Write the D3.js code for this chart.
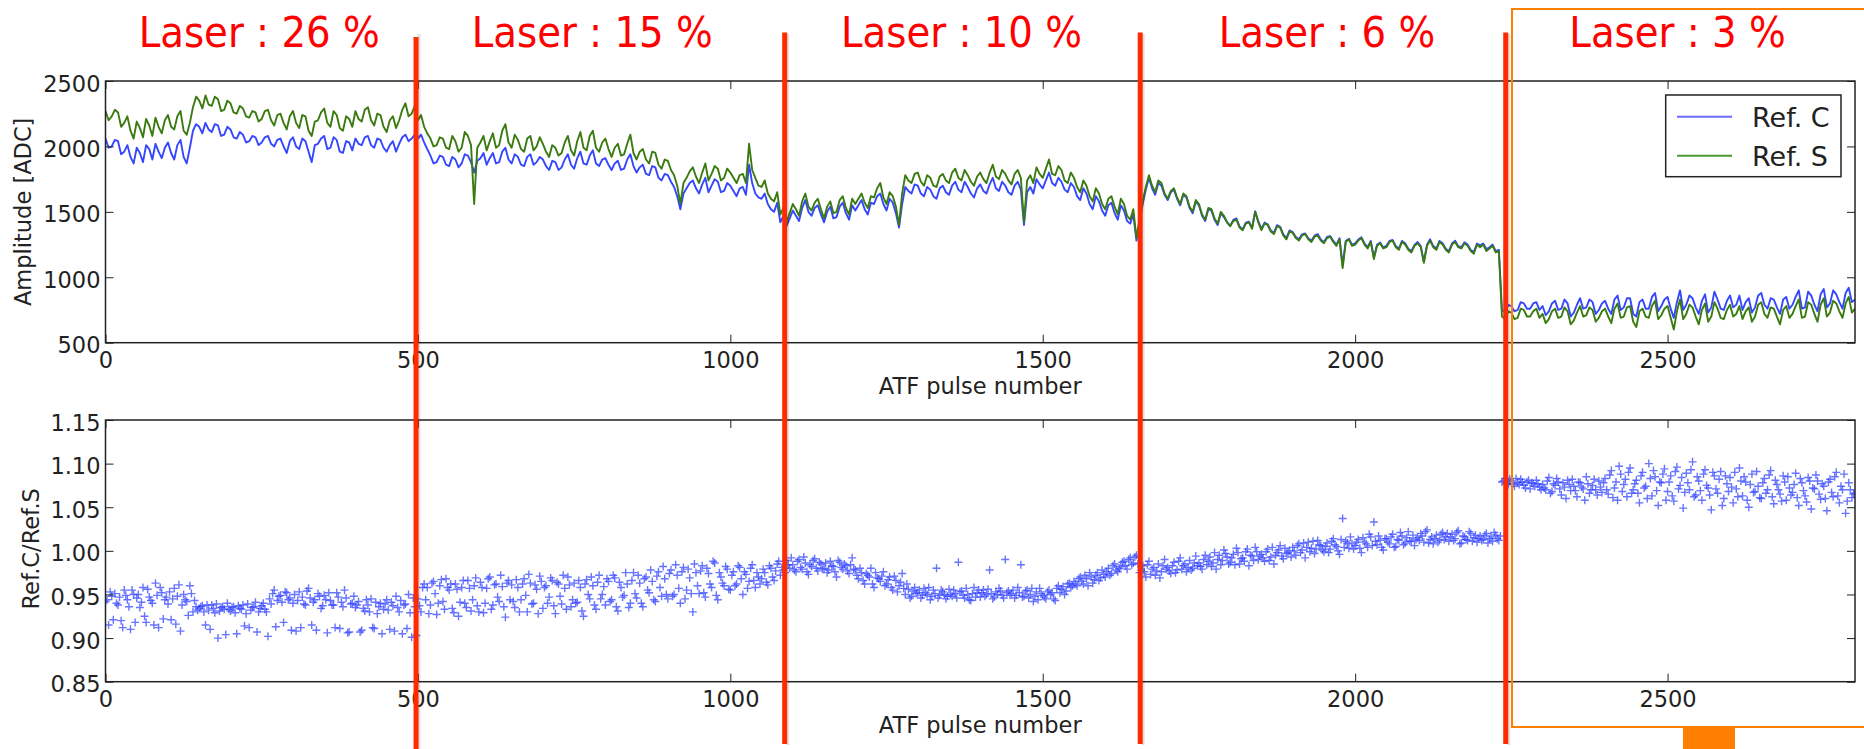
<!DOCTYPE html>
<html>
<head>
<meta charset="utf-8">
<script src="https://cdn.jsdelivr.net/npm/d3@7"></script>
<style>
body { margin: 0; background: #fff; }
text { font-family: "DejaVu Sans", sans-serif; fill: #222; }
</style>
</head>
<body>
<svg id="chart" width="1864" height="749"></svg>
<script>
// sampling of the traces: main arrays every 10 pulses (0..2800), *_mid arrays in between (5..2795)
var line_step = 10, ratio_step = 5;

// Ref. C amplitude [ADC]
var ref_c = [
	2060,2000,2040,1960,1920,1990,1880,1980,2020,1910,
	2030,1900,2050,1870,2120,2150,2180,2110,2160,2090,
	2130,2060,2090,2040,2070,2030,2080,2000,2060,1950,
	2070,1980,2040,1880,2020,2080,1990,2050,1950,2030,
	2060,2010,2080,1990,2050,1960,2040,2020,2090,2060,
	2060,2030,1930,1880,1920,1850,1900,1870,1930,1800,
	1910,1860,1950,1880,1990,1870,1920,1850,1940,1880,
	1900,1820,1880,1840,1940,1830,1960,1860,1970,1850,
	1910,1820,1890,1830,1940,1800,1860,1780,1840,1740,
	1780,1690,1520,1680,1740,1640,1760,1700,1730,1660,
	1700,1620,1690,1860,1640,1600,1560,1500,1420,1390,
	1510,1430,1590,1470,1550,1420,1540,1460,1570,1440,
	1510,1590,1480,1560,1640,1510,1570,1380,1690,1640,
	1700,1620,1670,1600,1700,1630,1730,1650,1690,1610,
	1710,1640,1760,1660,1700,1630,1730,1400,1690,1750,
	1680,1800,1700,1730,1650,1690,1590,1640,1520,1580,
	1470,1570,1440,1510,1410,1280,1560,1760,1630,1700,
	1590,1670,1550,1610,1490,1550,1430,1510,1400,1460,
	1395,1450,1365,1425,1505,1370,1405,1340,1385,1300,
	1345,1290,1335,1280,1330,1270,1315,1250,1090,1295,
	1260,1305,1230,1150,1265,1240,1285,1220,1260,1200,
	1270,1120,1290,1220,1260,1200,1280,1230,1250,1195,
	1245,1215,1250,1210,730,780,750,800,760,810,
	780,740,820,760,800,730,840,770,810,750,
	820,720,860,770,840,700,830,760,880,780,
	850,690,900,790,840,720,870,770,830,750,
	860,790,750,840,770,880,760,830,720,850,
	790,900,770,860,740,910,800,870,760,920,
	830];
var ref_c_mid = [
	1990,2050,1940,2010,1870,1950,2010,1900,1960,1990,
	1950,2010,1920,1990,2170,2100,2130,2170,2080,2150,
	2070,2110,2030,2080,2010,2070,2020,2050,2000,2040,
	2000,2060,1960,2010,2060,1980,2070,1960,2040,1970,
	2020,2070,2010,2060,1990,2010,1960,2070,2040,2090,
	2090,1980,1870,1930,1860,1920,1840,1940,1880,1890,
	1950,1910,1870,1960,1900,1940,1860,1920,1860,1920,
	1850,1890,1820,1900,1860,1910,1870,1930,1870,1900,
	1860,1870,1820,1900,1850,1840,1790,1850,1760,1790,
	1730,1620,1640,1720,1680,1710,1650,1750,1650,1720,
	1660,1680,1630,1720,1610,1640,1520,1570,1470,1450,
	1470,1530,1500,1530,1480,1500,1450,1540,1490,1550,
	1550,1520,1570,1620,1560,1600,1490,1560,1660,1710,
	1640,1690,1620,1680,1650,1700,1670,1730,1640,1680,
	1660,1710,1680,1730,1650,1700,1670,1650,1640,1710,
	1740,1720,1760,1670,1720,1620,1680,1560,1620,1510,
	1550,1490,1550,1430,1480,1420,1670,1680,1720,1630,
	1650,1600,1630,1530,1580,1470,1520,1440,1490,1420,
	1438,1388,1418,1378,1428,1418,1358,1398,1328,1358,
	1308,1328,1298,1318,1288,1308,1278,1298,1278,1248,
	1288,1258,1278,1248,1228,1278,1238,1278,1218,1248,
	1238,1248,1238,1278,1218,1258,1238,1268,1208,1258,
	1258,1228,1200,750,790,740,810,760,800,750,
	710,800,750,830,700,790,760,830,720,800,
	760,830,750,840,720,810,760,850,740,830,
	760,810,750,860,770,820,730,890,760,820,
	770,860,810,730,860,790,840,770,830,760,
	850,760,890,790,870,770,900,810,880,810];

// Ref. S amplitude [ADC]
var ref_s = [
	2270,2230,2260,2180,2120,2190,2070,2160,2220,2100,
	2240,2130,2270,2090,2300,2350,2390,2310,2360,2280,
	2330,2250,2290,2220,2260,2210,2280,2160,2250,2130,
	2270,2140,2230,2080,2200,2290,2150,2240,2120,2210,
	2270,2190,2300,2160,2240,2110,2230,2200,2330,2250,
	2200,2150,2060,2010,2060,1980,2040,1990,2080,1560,
	2030,1970,2100,2010,2170,1990,2050,1960,2080,2000,
	2020,1920,1990,1950,2080,1930,2110,1970,2120,1960,
	2060,1920,2020,1940,2090,1900,1980,1870,1950,1830,
	1890,1780,1560,1760,1840,1720,1870,1790,1830,1760,
	1800,1720,1790,2020,1760,1690,1640,1580,1480,1420,
	1560,1470,1640,1510,1600,1450,1580,1500,1620,1480,
	1560,1640,1530,1610,1720,1560,1620,1400,1780,1720,
	1800,1700,1760,1690,1790,1720,1830,1740,1780,1700,
	1800,1720,1860,1750,1790,1710,1820,1420,1780,1840,
	1760,1900,1780,1820,1720,1760,1650,1700,1580,1640,
	1520,1620,1480,1560,1440,1300,1580,1780,1650,1720,
	1600,1680,1560,1620,1500,1560,1440,1520,1410,1470,
	1390,1440,1360,1420,1500,1360,1400,1330,1380,1290,
	1340,1280,1330,1270,1320,1260,1310,1240,1070,1290,
	1250,1300,1220,1140,1260,1230,1280,1210,1250,1190,
	1260,1110,1280,1210,1250,1190,1270,1220,1240,1180,
	1230,1200,1240,1200,680,730,690,750,700,760,
	720,680,760,700,740,670,780,710,750,690,
	760,650,800,700,780,620,760,690,820,710,
	780,600,830,720,770,640,800,700,760,680,
	790,720,680,770,700,810,690,760,640,780,
	720,830,700,790,660,840,730,800,690,850,
	760];
var ref_s_mid = [
	2200,2280,2150,2230,2060,2140,2210,2080,2150,2200,
	2150,2230,2120,2180,2380,2290,2320,2380,2270,2350,
	2260,2310,2230,2270,2190,2270,2200,2240,2180,2230,
	2180,2240,2120,2190,2260,2180,2270,2140,2230,2150,
	2210,2280,2200,2250,2150,2200,2140,2280,2230,2310,
	2240,2100,2000,2070,1990,2080,1960,2110,2010,1990,
	2080,2040,1990,2120,2030,2090,1980,2060,1970,2070,
	1960,2010,1930,2030,1970,2040,1990,2080,1990,2030,
	1980,1990,1930,2020,1950,1960,1900,1960,1860,1900,
	1820,1700,1720,1810,1770,1800,1740,1850,1740,1830,
	1760,1780,1720,1820,1700,1740,1600,1650,1530,1490,
	1520,1580,1540,1570,1520,1540,1490,1590,1530,1600,
	1600,1570,1620,1680,1610,1650,1540,1640,1740,1790,
	1730,1780,1700,1770,1740,1800,1760,1820,1730,1770,
	1750,1800,1770,1820,1740,1790,1760,1740,1720,1790,
	1830,1790,1850,1740,1800,1690,1740,1620,1680,1560,
	1600,1540,1600,1470,1520,1450,1690,1700,1740,1640,
	1660,1610,1640,1540,1590,1480,1530,1450,1500,1420,
	1430,1380,1410,1370,1420,1410,1350,1390,1320,1350,
	1300,1320,1290,1310,1280,1300,1270,1290,1270,1240,
	1280,1250,1270,1240,1220,1270,1230,1270,1210,1240,
	1230,1240,1230,1270,1210,1250,1230,1260,1200,1250,
	1250,1220,1190,700,740,680,760,700,740,690,
	650,740,690,770,640,730,700,770,660,740,
	700,760,690,770,660,740,700,780,680,760,
	690,740,680,790,700,750,660,810,690,750,
	700,780,740,660,790,720,770,700,750,690,
	780,690,810,720,790,700,820,740,800,730];

// Ref.C / Ref.S, every 5 pulses (0..2800) and in between (2.5..2797.5)
var ratio = [
	.942,.915,.948,.951,.938,.920,.955,.944,.910,.950,
	.946,.935,.958,.918,.947,.940,.963,.912,.952,.944,
	.939,.921,.957,.948,.908,.950,.942,.960,.930,.936,
	.934,.937,.915,.932,.938,.929,.900,.935,.933,.940,
	.931,.936,.905,.934,.938,.928,.912,.935,.941,.930,
	.937,.933,.902,.939,.955,.943,.949,.918,.952,.946,
	.940,.908,.953,.947,.938,.957,.915,.944,.951,.934,
	.949,.906,.943,.938,.952,.911,.936,.946,.907,.940,
	.935,.942,.909,.931,.938,.945,.911,.928,.940,.933,
	.944,.910,.937,.948,.930,.905,.939,.950,.901,.936,
	.945,.930,.962,.958,.938,.965,.927,.960,.942,.968,
	.955,.934,.962,.925,.958,.940,.966,.931,.960,.937,
	.964,.929,.957,.970,.938,.962,.942,.959,.924,.966,
	.961,.935,.958,.944,.968,.930,.963,.940,.956,.971,
	.934,.960,.947,.966,.928,.962,.939,.957,.970,.936,
	.963,.941,.958,.925,.967,.945,.960,.933,.972,.950,
	.938,.965,.944,.969,.931,.958,.949,.962,.940,.975,
	.946,.963,.936,.970,.952,.965,.942,.976,.948,.968,
	.945,.978,.950,.972,.940,.981,.955,.969,.930,.975,
	.951,.983,.947,.974,.958,.986,.944,.970,.960,.979,
	.955,.976,.962,.981,.950,.973,.965,.984,.958,.970,
	.968,.975,.961,.980,.966,.985,.972,.978,.989,.980,
	.984,.976,.990,.979,.986,.973,.982,.991,.977,.985,
	.980,.975,.988,.982,.970,.987,.979,.983,.974,.992,
	.978,.968,.975,.962,.972,.980,.958,.969,.965,.976,
	.962,.970,.955,.966,.960,.974,.950,.956,.948,.958,
	.952,.946,.957,.950,.944,.955,.980,.949,.953,.945,
	.956,.948,.951,.987,.954,.946,.950,.943,.958,.952,
	.947,.955,.950,.978,.945,.953,.957,.949,.990,.954,
	.951,.946,.958,.984,.948,.955,.950,.942,.953,.957,
	.949,.945,.955,.952,.943,.960,.956,.950,.962,.958,
	.965,.960,.970,.962,.968,.975,.963,.972,.966,.978,
	.970,.980,.974,.985,.976,.982,.988,.979,.992,.986,
	.995,.975,.983,.970,.988,.979,.972,.985,.976,.990,
	.981,.974,.987,.978,.992,.983,.976,.989,.980,.994,
	.986,.979,.995,.988,.982,.998,.990,.984,1.001,.993,
	.987,.996,1.003,.985,.992,.999,.983,.994,1.004,.990,
	.996,.988,1.002,.993,.985,.998,1.006,.991,.997,1.000,
	1.004,.995,1.008,1.001,.992,1.010,1.003,.997,1.012,1.006,
	.999,1.009,1.002,1.014,1.005,.996,1.037,1.011,1.003,1.008,
	1.006,1.013,.998,1.010,1.004,1.016,1.033,1.007,1.012,1.001,
	1.014,1.008,1.019,1.005,1.012,1.017,1.009,1.022,1.011,1.006,
	1.015,1.020,1.010,1.024,1.013,1.008,1.018,1.012,1.021,1.016,
	1.011,1.019,1.014,1.023,1.009,1.016,1.012,1.020,1.015,1.010,
	1.017,1.013,1.020,1.014,1.011,1.018,1.012,1.079,1.083,1.076,
	1.080,1.074,1.078,1.082,1.075,1.079,1.071,1.077,1.081,1.073,
	1.076,1.070,1.084,1.068,1.075,1.079,1.064,1.073,1.081,1.069,
	1.074,1.062,1.078,1.071,1.085,1.066,1.075,1.070,1.080,1.067,
	1.083,1.065,1.092,1.072,1.058,1.088,1.076,1.062,1.095,1.070,
	1.081,1.055,1.090,1.074,1.100,1.063,1.085,1.052,1.078,1.094,
	1.068,1.086,1.057,1.096,1.075,1.049,1.089,1.070,1.102,1.064,
	1.080,1.058,1.093,1.072,1.047,1.086,1.066,1.091,1.060,1.077,
	1.084,1.055,1.071,1.095,1.063,1.079,1.050,1.088,1.068,1.074,
	1.060,1.083,1.070,1.092,1.054,1.076,1.065,1.086,1.058,1.072,
	1.067,1.089,1.052,1.078,1.063,1.084,1.048,1.071,1.080,1.059,
	1.074,1.046,1.082,1.062,1.090,1.055,1.070,1.043,1.078,1.061,
	1.066];
var ratio_mid = [
	.944,.953,.921,.940,.947,.912,.949,.936,.955,.918,
	.950,.941,.925,.956,.943,.915,.949,.958,.922,.947,
	.953,.945,.916,.961,.938,.944,.926,.951,.943,.932,
	.936,.930,.938,.910,.934,.939,.931,.936,.904,.933,
	.935,.929,.937,.933,.914,.939,.932,.936,.907,.934,
	.940,.930,.945,.951,.913,.948,.941,.953,.944,.909,
	.950,.943,.912,.939,.954,.946,.941,.909,.948,.937,
	.944,.952,.938,.912,.947,.941,.955,.906,.939,.948,
	.938,.907,.934,.944,.930,.912,.941,.936,.905,.939,
	.932,.941,.908,.935,.943,.938,.911,.929,.946,.903,
	.937,.958,.944,.928,.963,.951,.940,.967,.933,.958,
	.962,.929,.956,.941,.966,.935,.957,.944,.969,.930,
	.958,.940,.968,.933,.961,.947,.972,.936,.963,.944,
	.942,.967,.930,.962,.949,.973,.939,.961,.928,.965,
	.958,.940,.969,.937,.964,.948,.972,.933,.961,.944,
	.940,.966,.931,.962,.950,.970,.938,.964,.945,.959,
	.968,.942,.972,.936,.964,.947,.975,.935,.966,.951,
	.972,.940,.968,.955,.978,.944,.971,.958,.982,.950,
	.974,.948,.984,.957,.976,.945,.979,.951,.985,.960,
	.977,.952,.980,.962,.988,.949,.975,.963,.982,.956,
	.972,.960,.983,.968,.976,.957,.980,.966,.975,.962,
	.979,.964,.983,.970,.977,.988,.981,.975,.984,.992,
	.978,.988,.981,.993,.976,.984,.989,.980,.987,.979,
	.986,.978,.983,.976,.989,.981,.985,.977,.984,.979,
	.972,.980,.966,.974,.970,.962,.975,.968,.971,.960,
	.967,.958,.971,.953,.964,.957,.962,.946,.954,.951,
	.955,.949,.952,.958,.948,.951,.946,.955,.950,.948,
	.950,.955,.946,.953,.949,.957,.944,.951,.947,.955,
	.952,.948,.956,.951,.947,.950,.954,.946,.952,.949,
	.955,.949,.952,.947,.954,.946,.957,.948,.944,.951,
	.947,.953,.950,.945,.957,.952,.959,.954,.963,.960,
	.962,.968,.965,.972,.960,.970,.967,.975,.969,.973,
	.976,.972,.983,.978,.980,.987,.983,.990,.984,.993,
	.985,.978,.976,.984,.973,.981,.977,.969,.983,.979,
	.977,.983,.975,.988,.979,.985,.981,.978,.986,.983,
	.982,.990,.984,.993,.986,.979,.995,.989,.997,.985,
	.992,.984,.998,.991,.988,1.002,.995,.989,.999,.994,
	.992,.999,.989,1.004,.995,1.001,.994,1.003,.998,.993,
	1.000,1.006,.998,1.009,1.004,.999,1.011,1.002,1.007,1.001,
	1.005,.998,1.011,1.007,1.000,1.013,1.004,1.009,1.016,1.002,
	1.010,1.003,1.015,1.008,1.019,1.006,1.011,1.017,1.004,1.014,
	1.010,1.016,1.004,1.013,1.021,1.007,1.015,1.011,1.018,1.013,
	1.012,1.017,1.022,1.009,1.016,1.014,1.010,1.019,1.013,1.020,
	1.016,1.012,1.021,1.008,1.017,1.013,1.022,1.011,1.018,1.014,
	1.012,1.018,1.009,1.016,1.021,1.014,1.017,1.080,1.077,1.082,
	1.077,1.083,1.076,1.079,1.072,1.081,1.078,1.074,1.077,1.070,
	1.072,1.080,1.066,1.077,1.083,1.071,1.078,1.060,1.076,1.082,
	1.069,1.079,1.073,1.058,1.077,1.070,1.082,1.064,1.073,1.078,
	1.070,1.087,1.061,1.079,1.097,1.068,1.082,1.090,1.066,1.077,
	1.066,1.086,1.072,1.060,1.083,1.092,1.069,1.079,1.088,1.058,
	1.079,1.063,1.091,1.071,1.084,1.067,1.078,1.093,1.062,1.085,
	1.069,1.088,1.075,1.064,1.090,1.071,1.082,1.052,1.086,1.068,
	1.073,1.090,1.062,1.080,1.085,1.058,1.076,1.067,1.091,1.061,
	1.078,1.066,1.087,1.062,1.081,1.070,1.057,1.079,1.085,1.064,
	1.076,1.061,1.083,1.069,1.056,1.080,1.072,1.087,1.065,1.077,
	1.060,1.079,1.067,1.085,1.063,1.074,1.088,1.057,1.070,1.065];

var pulse_ticks = [0, 500, 1000, 1500, 2000, 2500];
var amp_ticks = [500, 1000, 1500, 2000, 2500];
var ratio_ticks = [0.85, 0.90, 0.95, 1.00, 1.05, 1.10, 1.15];

// laser settings, edges between runs and label centres in pulse numbers
var laser_labels = ["Laser : 26 %", "Laser : 15 %", "Laser : 10 %", "Laser : 6 %", "Laser : 3 %"];
var laser_centres = [246, 779, 1370, 1955, 2516];
var laser_edges = [497, 1087, 1656, 2241];

var series_names = ["Ref. C", "Ref. S"];

// interleave main and mid samples into [pulse, value] pairs
function trace(main, mid, step) {
	var out = [];
	main.forEach((v, i) => {
		out.push([i * step, v]);
		if (i < mid.length) out.push([i * step + step / 2, mid[i]]);
	});
	return out;
}
var trace_c = trace(ref_c, ref_c_mid, line_step);
var trace_s = trace(ref_s, ref_s_mid, line_step);
var trace_r = trace(ratio, ratio_mid, ratio_step);

var svg = d3.select("#chart");
svg.append("rect").attr("width", 1864).attr("height", 749).attr("fill", "#fff");

var left = 105.5, right = 1855;
var top1 = 81, bottom1 = 342.7, top2 = 420, bottom2 = 681.7;

var x = d3.scaleLinear().domain([0, 2800]).range([left, right]);
var y_amp = d3.scaleLinear().domain([500, 2500]).range([bottom1, top1]);
var y_rat = d3.scaleLinear().domain([0.85, 1.15]).range([bottom2, top2]);

var defs = svg.append("defs");
defs.append("clipPath").attr("id", "clip1").append("rect")
	.attr("x", left).attr("y", top1).attr("width", right - left).attr("height", bottom1 - top1);
defs.append("clipPath").attr("id", "clip2").append("rect")
	.attr("x", left).attr("y", top2).attr("width", right - left).attr("height", bottom2 - top2);

// --- top panel : amplitudes
var line = d3.line()
	.x(d => x(d[0]))
	.y(d => y_amp(d[1]));

var g1 = svg.append("g").attr("clip-path", "url(#clip1)");
g1.append("path").datum(trace_c)
	.attr("d", line).attr("fill", "none")
	.attr("stroke", "#3447ff").attr("stroke-width", 1.9).attr("stroke-linejoin", "round");
g1.append("path").datum(trace_s)
	.attr("d", line).attr("fill", "none")
	.attr("stroke", "#3a7b10").attr("stroke-width", 1.9).attr("stroke-linejoin", "round");

// --- bottom panel : ratio
var g2 = svg.append("g").attr("clip-path", "url(#clip2)");
g2.selectAll(".plus")
	.data(trace_r)
	.enter().append("path")
	.attr("class", "plus")
	.attr("transform", d => `translate(${x(d[0])},${y_rat(d[1])})`)
	.attr("d", "M-4,0H4M0,-4V4")
	.attr("stroke", "#2c3fff")
	.attr("stroke-width", 1.4)
	.attr("stroke-opacity", 0.72);

// --- axes (matplotlib style: ticks inside on all four sides)
function frame(y, ticks, fmt, ytop, ybot) {
	svg.append("g").attr("transform", `translate(0,${ybot})`)
		.call(d3.axisBottom(x).tickValues(pulse_ticks).tickSizeInner(-8).tickSizeOuter(0).tickPadding(9).tickFormat(d3.format("d")))
		.call(g => g.select(".domain").remove());
	svg.append("g").attr("transform", `translate(0,${ytop})`)
		.call(d3.axisTop(x).tickValues(pulse_ticks).tickSizeInner(-8).tickSizeOuter(0).tickFormat(""))
		.call(g => g.select(".domain").remove());
	svg.append("g").attr("transform", `translate(${left},0)`)
		.call(d3.axisLeft(y).tickValues(ticks).tickSizeInner(-8).tickSizeOuter(0).tickPadding(5).tickFormat(fmt))
		.call(g => g.select(".domain").remove())
		.selectAll("text").attr("dy", "0.45em");
	svg.append("g").attr("transform", `translate(${right},0)`)
		.call(d3.axisRight(y).tickValues(ticks).tickSizeInner(-8).tickSizeOuter(0).tickFormat(""))
		.call(g => g.select(".domain").remove());
	svg.append("rect")
		.attr("x", left).attr("y", ytop).attr("width", right - left).attr("height", ybot - ytop)
		.attr("fill", "none").attr("stroke", "#222").attr("stroke-width", 1.5);
}
frame(y_amp, amp_ticks, d3.format("d"), top1, bottom1);
frame(y_rat, ratio_ticks, d3.format(".2f"), top2, bottom2);

svg.selectAll(".tick text").style("font-size", "22.5px").style("font-family", "DejaVu Sans").attr("fill", "#222");
svg.selectAll(".tick line").attr("stroke", "#222");

// axis titles
[bottom1, bottom2].forEach(b => {
	svg.append("text")
		.attr("x", (left + right) / 2).attr("y", b + 51)
		.attr("text-anchor", "middle")
		.style("font-size", "22.5px")
		.text("ATF pulse number");
});
svg.append("text")
	.attr("transform", `translate(31,${(top1 + bottom1) / 2}) rotate(-90)`)
	.attr("text-anchor", "middle")
	.style("font-size", "22.5px")
	.text("Amplitude [ADC]");
svg.append("text")
	.attr("transform", `translate(39,${(top2 + bottom2) / 2 - 2}) rotate(-90)`)
	.attr("text-anchor", "middle")
	.style("font-size", "22.5px")
	.text("Ref.C/Ref.S");

// legend
var legend = svg.append("g");
legend.append("rect")
	.attr("x", 1665.7).attr("y", 95).attr("width", 175.3).attr("height", 81.7)
	.attr("fill", "#fff").attr("stroke", "#222").attr("stroke-width", 1.5);
var legend_colors = ["#6a6aff", "#4a9a32"];
series_names.forEach((name, i) => {
	legend.append("line")
		.attr("x1", 1677).attr("x2", 1732)
		.attr("y1", 116.7 + i * 39).attr("y2", 116.7 + i * 39)
		.attr("stroke", legend_colors[i]).attr("stroke-width", 2);
	legend.append("text")
		.attr("x", 1752).attr("y", 126.7 + i * 39)
		.style("font-size", "27px")
		.text(name);
});

// laser annotations
svg.selectAll(".laser")
	.data(laser_labels)
	.enter().append("text")
	.attr("class", "laser")
	.attr("x", (d, i) => x(laser_centres[i]))
	.attr("y", 46.7)
	.attr("text-anchor", "middle")
	.style("font-family", "'DejaVu Sans Condensed', 'DejaVu Sans', sans-serif")
	.style("font-stretch", "condensed")
	.style("font-size", "43px")
	.style("fill", "#ff0000")
	.text(d => d);

svg.selectAll(".edge-shadow")
	.data(laser_edges)
	.enter().append("line")
	.attr("x1", d => x(d) + 3).attr("x2", d => x(d) + 3)
	.attr("y1", 34).attr("y2", (d, i) => i == 0 ? 749 : 745)
	.attr("stroke", "#000").attr("stroke-opacity", 0.12).attr("stroke-width", 3);
svg.selectAll(".edge")
	.data(laser_edges)
	.enter().append("line")
	.attr("class", "edge")
	.attr("x1", d => x(d)).attr("x2", d => x(d))
	.attr("y1", (d, i) => i == 0 ? 37 : 32.5)
	.attr("y2", (d, i) => i == 0 ? 749 : 744)
	.attr("stroke", "#ff2a00").attr("stroke-width", 5);

// highlight box around the 3 % run
svg.append("rect")
	.attr("x", 1512).attr("y", 9).attr("width", 400).attr("height", 718)
	.attr("fill", "none").attr("stroke", "#ff7f00").attr("stroke-width", 2);
svg.append("rect")
	.attr("x", 1683).attr("y", 727).attr("width", 52).attr("height", 22)
	.attr("fill", "#ff7f00");
</script>
</body>
</html>
